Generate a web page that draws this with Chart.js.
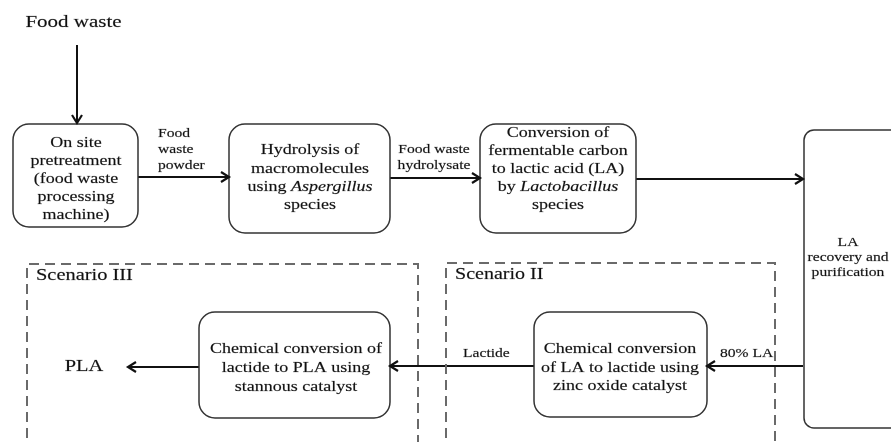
<!DOCTYPE html>
<html>
<head>
<meta charset="utf-8">
<script src="https://cdn.jsdelivr.net/npm/chart.js@4.4.1/dist/chart.umd.min.js"></script>
<style>
  html, body { margin: 0; background: #fff; }
  canvas { display: block; }
</style>
</head>
<body>
<canvas id="flow" width="891" height="442"></canvas>
<script>
// process steps, one entry per text line (*...* marks italic words)
const stepLines = [
    ['On site', 'pretreatment', '(food waste', 'processing', 'machine)'],
    ['Hydrolysis of', 'macromolecules', 'using *Aspergillus*', 'species'],
    ['Conversion of', 'fermentable carbon', 'to lactic acid (LA)', 'by *Lactobacillus*', 'species'],
    ['LA', 'recovery and', 'purification'],
    ['Chemical conversion', 'of LA to lactide using', 'zinc oxide catalyst'],
    ['Chemical conversion of', 'lactide to PLA using', 'stannous catalyst']
];

// flows between steps and their labels
const flowLabels = [[], ['Food', 'waste', 'powder'], ['Food waste', 'hydrolysate'], [], ['80% LA'], ['Lactide'], []];
const sourceLabel = 'Food waste';
const productLabel = 'PLA';
const scenarioNames = ['Scenario III', 'Scenario II'];

// diagram layout (in diagram units, same frame as the picture)
const layout = {
    boxes: [
        { l: 13, r: 138, t: 124, b: 227, cx: 76, ty: 179, lh: 18, size: 15, rad: 16 },
        { l: 229, r: 390, t: 124, b: 233, cx: 310, ty: 178, lh: 18.3, size: 15, rad: 16 },
        { l: 480, r: 636, t: 124, b: 233, cx: 558, ty: 169, lh: 18.2, size: 15, rad: 16 },
        { l: 804, r: 900, t: 130, b: 428, cx: 848, ty: 258, lh: 15, size: 13, rad: 10 },
        { l: 534, r: 707, t: 312, b: 417, cx: 620, ty: 368, lh: 18.5, size: 15, rad: 16 },
        { l: 199, r: 390, t: 312, b: 418, cx: 296, ty: 368, lh: 19, size: 15, rad: 16 }
    ],
    flows: [
        [77, 45, 77, 123],
        [138, 177, 229, 177],
        [390, 178, 480, 178],
        [636, 179, 803, 179],
        [803, 366, 707, 366],
        [534, 366, 390, 366],
        [199, 367, 128, 367]
    ],
    flowText: [
        null,
        { x: 158, y: 134, lh: 16, align: 'left' },
        { x: 434, y: 150, lh: 16, align: 'center' },
        null,
        { x: 720, y: 354, lh: 16, align: 'left' },
        { x: 463, y: 354, lh: 16, align: 'left' },
        null
    ],
    scenarios: [
        { l: 27, r: 418, t: 264, b: 470, tx: 36, ty: 276, size: 17 },
        { l: 446, r: 775, t: 263, b: 470, tx: 455, ty: 275, size: 16.7 }
    ]
};

const FONT = '"Liberation Serif", serif';
const STRETCH = 1.2;

// flow shafts as scatter lines
const flowSets = layout.flows.map(f => ({
    data: [{ x: f[0], y: f[1] }, { x: f[2], y: f[3] }],
    showLine: true,
    borderColor: '#111',
    borderWidth: 2,
    pointRadius: 0
}));

// scenario frames as dashed lines
const frameSets = layout.scenarios.map(s => ({
    data: [{ x: s.l, y: s.b }, { x: s.l, y: s.t }, { x: s.r, y: s.t }, { x: s.r, y: s.b }],
    showLine: true,
    borderColor: '#6a6a6a',
    borderWidth: 2,
    borderDash: [10, 6],
    pointRadius: 0,
    clip: false
}));

function drawText(ctx, str, x, y, size, align) {
    // split *italic* runs
    const parts = str.split('*').map((t, i) => ({ t, italic: i % 2 === 1 })).filter(p => p.t);
    let total = 0;
    parts.forEach(p => {
        ctx.font = (p.italic ? 'italic ' : '') + size + 'px ' + FONT;
        p.w = ctx.measureText(p.t).width;
        total += p.w;
    });
    ctx.save();
    ctx.translate(x, y);
    ctx.scale(STRETCH, 1);
    let cur = align === 'left' ? 0 : -total / 2;
    ctx.textAlign = 'left';
    ctx.textBaseline = 'middle';
    ctx.fillStyle = '#111';
    ctx.strokeStyle = 'rgba(17,17,17,0.4)';
    ctx.lineWidth = 0.4;
    parts.forEach(p => {
        ctx.font = (p.italic ? 'italic ' : '') + size + 'px ' + FONT;
        ctx.fillText(p.t, cur, 0);
        ctx.strokeText(p.t, cur, 0);
        cur += p.w;
    });
    ctx.restore();
}

const flowDiagram = {
    id: 'flowDiagram',
    afterDatasetsDraw(chart) {
        const ctx = chart.ctx;
        const xs = chart.scales.x, ys = chart.scales.y;
        const px = v => xs.getPixelForValue(v);
        const py = v => ys.getPixelForValue(v);

        // boxes
        layout.boxes.forEach((b, i) => {
            ctx.save();
            ctx.beginPath();
            ctx.roundRect(px(b.l), py(b.t), px(b.r) - px(b.l), py(b.b) - py(b.t), b.rad);
            ctx.fillStyle = '#fff';
            ctx.fill();
            ctx.lineWidth = 1.5;
            ctx.strokeStyle = '#333';
            ctx.stroke();
            ctx.restore();
            const lines = stepLines[i];
            const y0 = b.ty - (lines.length - 1) * b.lh / 2;
            lines.forEach((ln, k) => drawText(ctx, ln, px(b.cx), py(y0 + k * b.lh), b.size, 'center'));
        });

        // arrow heads
        layout.flows.forEach(f => {
            const x2 = px(f[2]), y2 = py(f[3]);
            const ang = Math.atan2(y2 - py(f[1]), x2 - px(f[0]));
            ctx.save();
            ctx.translate(x2, y2);
            ctx.rotate(ang);
            ctx.beginPath();
            ctx.moveTo(-8, -5);
            ctx.lineTo(0, 0);
            ctx.lineTo(-8, 5);
            ctx.lineWidth = 2.2;
            ctx.strokeStyle = '#111';
            ctx.stroke();
            ctx.restore();
        });

        // flow labels
        layout.flowText.forEach((t, i) => {
            if (!t) return;
            flowLabels[i].forEach((ln, k) => drawText(ctx, ln, px(t.x), py(t.y + k * t.lh), 13, t.align));
        });

        // scenario titles
        layout.scenarios.forEach((s, i) => drawText(ctx, scenarioNames[i], px(s.tx), py(s.ty), s.size, 'left'));

        drawText(ctx, sourceLabel, px(73.5), py(22), 17.5, 'center');
        drawText(ctx, productLabel, px(84), py(367), 17, 'center');
    }
};

function draw() {
    new Chart(document.getElementById('flow'), {
        type: 'scatter',
        data: { datasets: [...frameSets, ...flowSets] },
        options: {
            responsive: false,
            animation: false,
            layout: { padding: 0 },
            scales: {
                x: { type: 'linear', min: 0, max: 891, display: false },
                y: { type: 'linear', min: 0, max: 442, reverse: true, display: false }
            },
            plugins: { legend: { display: false }, tooltip: { enabled: false } }
        },
        plugins: [flowDiagram]
    });
}

// make sure the serif face is ready before drawing
Promise.all([
    document.fonts.load('15px "Liberation Serif"'),
    document.fonts.load('italic 15px "Liberation Serif"')
]).then(draw, draw);
</script>
</body>
</html>
